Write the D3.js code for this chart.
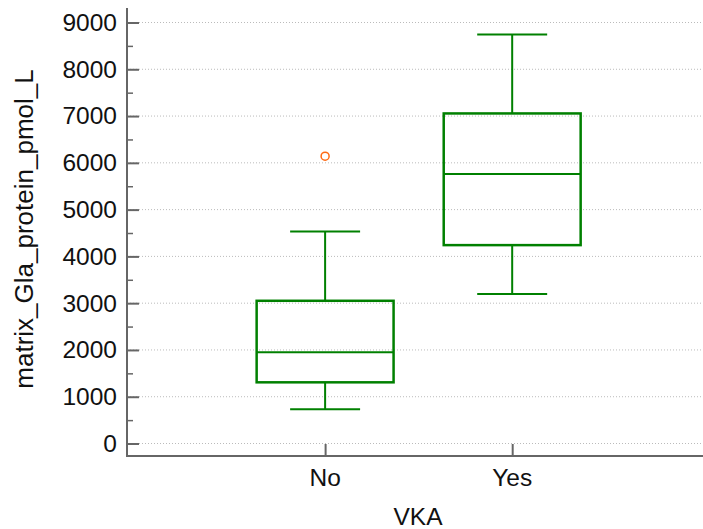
<!DOCTYPE html>
<html><head><meta charset="utf-8">
<script src="https://cdn.jsdelivr.net/npm/d3@7"></script>
<style>body{margin:0;background:#fff}</style>
</head><body>
<svg id="c" width="703" height="529"></svg>
<script>
const categories = ["No", "Yes"];
const whiskerLow = [731, 3194];
const q1 = [1308, 4241];
const median = [1949, 5759];
const q3 = [3051, 7056];
const whiskerHigh = [4534, 8744];
const outliers = [[0, 6143]];
const yTicks = [0,1000,2000,3000,4000,5000,6000,7000,8000,9000];
const yMinor = [500,1500,2500,3500,4500,5500,6500,7500,8500];

const svg = d3.select("#c");
const L = 127, R = 703, T = 8, B = 456;
const x = d3.scaleLinear().domain([-0.059, 3.02]).range([L, R]);
const y = d3.scaleLinear().domain([-267, 9310]).range([B, T]);
const font = "Arial, 'Liberation Sans', sans-serif";

// grid
svg.append("g").selectAll("line").data(yTicks).join("line")
  .attr("x1", L).attr("x2", R).attr("y1", d => y(d)).attr("y2", d => y(d))
  .attr("stroke", "#bbb").attr("stroke-width", 1).attr("stroke-dasharray", "1,2");

// y axis
const yAxis = svg.append("g").attr("transform", `translate(${L},0)`)
  .call(d3.axisRight(y).tickValues(yTicks).tickSize(12).tickFormat(""));
yAxis.select(".domain").remove();
yAxis.selectAll("line").attr("stroke", "#666").attr("stroke-width", 2);
const yMin = svg.append("g").attr("transform", `translate(${L},0)`)
  .call(d3.axisRight(y).tickValues(yMinor).tickSize(6).tickFormat(""));
yMin.select(".domain").remove();
yMin.selectAll("line").attr("stroke", "#666").attr("stroke-width", 1.5);
svg.append("g").selectAll("text").data(yTicks).join("text")
  .attr("x", 117).attr("y", d => y(d)).attr("dy", "0.34em")
  .attr("text-anchor", "end").attr("font-family", font).attr("font-size", 24.5)
  .attr("fill", "#111").text(d => d);

// x axis
const xAxis = svg.append("g").attr("transform", `translate(0,${B})`)
  .call(d3.axisTop(x).tickValues([1, 2]).tickSize(12).tickFormat(""));
xAxis.select(".domain").remove();
xAxis.selectAll("line").attr("stroke", "#666").attr("stroke-width", 2);
svg.append("g").selectAll("text").data(categories).join("text")
  .attr("x", (d, i) => x(i + 1)).attr("y", 486)
  .attr("text-anchor", "middle").attr("font-family", font).attr("font-size", 24.5)
  .attr("fill", "#111").text(d => d);

svg.append("line").attr("x1", L).attr("x2", L).attr("y1", T).attr("y2", B + 1)
  .attr("stroke", "#666").attr("stroke-width", 2);
svg.append("line").attr("x1", L - 1).attr("x2", R).attr("y1", B).attr("y2", B)
  .attr("stroke", "#666").attr("stroke-width", 2);

// labels
svg.append("text").attr("x", 418).attr("y", 525).attr("text-anchor", "middle")
  .attr("font-family", font).attr("font-size", 24.5).attr("fill", "#111").text("VKA");
svg.append("text").attr("transform", "translate(33,229) rotate(-90)")
  .attr("text-anchor", "middle").attr("font-family", font).attr("font-size", 26)
  .attr("fill", "#111").text("matrix_Gla_protein_pmol_L");

// boxes
const g = svg.append("g");
const green = "#008000";
const bw = 0.366, cw = 0.187;
categories.forEach((c, i) => {
  const cx = x(i + 1);
  const hw = x(i + 1 + bw) - cx, chw = x(i + 1 + cw) - cx;
  g.append("line").attr("x1", cx).attr("x2", cx).attr("y1", y(q3[i])).attr("y2", y(whiskerHigh[i]))
    .attr("stroke", green).attr("stroke-width", 2);
  g.append("line").attr("x1", cx).attr("x2", cx).attr("y1", y(q1[i])).attr("y2", y(whiskerLow[i]))
    .attr("stroke", green).attr("stroke-width", 2);
  [whiskerHigh[i], whiskerLow[i]].forEach(v => {
    g.append("line").attr("x1", cx - chw).attr("x2", cx + chw).attr("y1", y(v)).attr("y2", y(v))
      .attr("stroke", green).attr("stroke-width", 2);
  });
  g.append("rect").attr("x", cx - hw).attr("width", 2 * hw)
    .attr("y", y(q3[i])).attr("height", y(q1[i]) - y(q3[i]))
    .attr("fill", "none").attr("stroke", green).attr("stroke-width", 2.5);
  g.append("line").attr("x1", cx - hw).attr("x2", cx + hw).attr("y1", y(median[i])).attr("y2", y(median[i]))
    .attr("stroke", green).attr("stroke-width", 2);
});
g.selectAll("circle").data(outliers).join("circle")
  .attr("cx", d => x(d[0] + 1)).attr("cy", d => y(d[1])).attr("r", 4)
  .attr("fill", "none").attr("stroke", "#ff6a13").attr("stroke-width", 1.5);
</script>
</body></html>
